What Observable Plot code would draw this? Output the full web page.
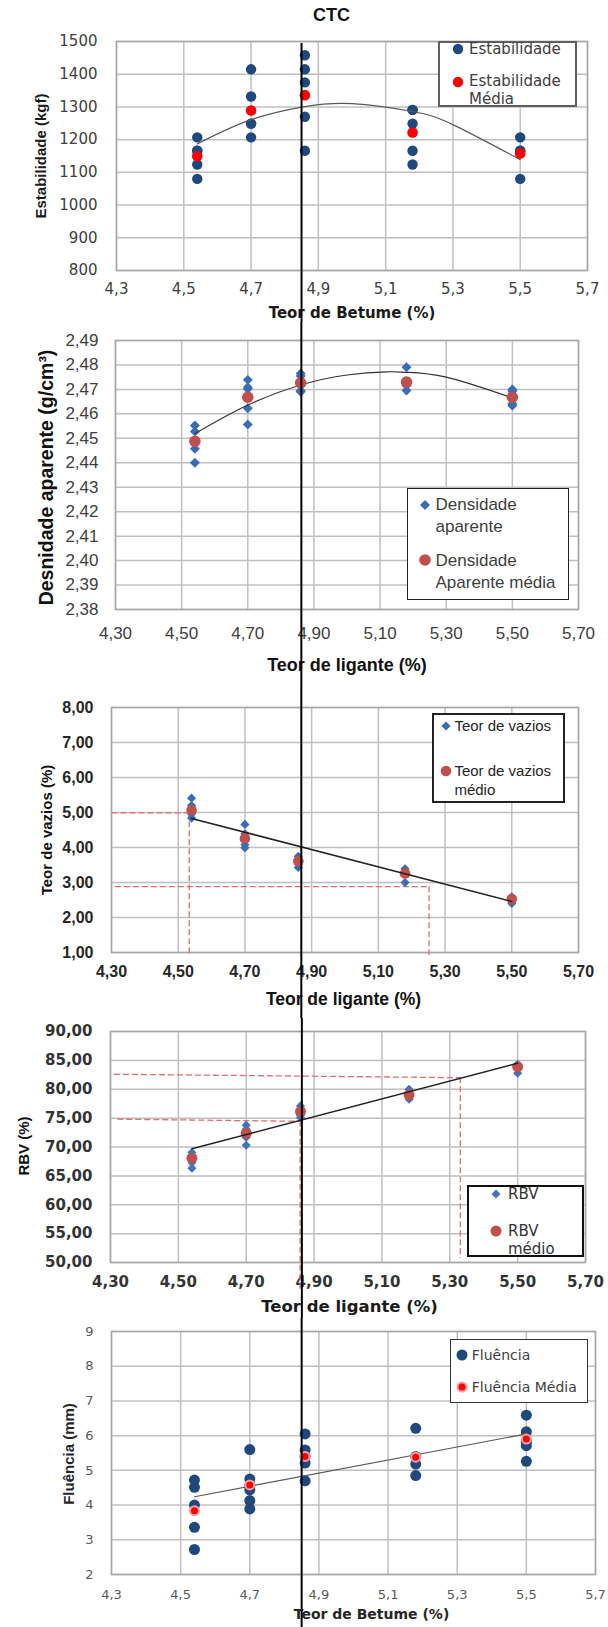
<!DOCTYPE html>
<html>
<head>
<meta charset="utf-8">
<script src="https://cdn.jsdelivr.net/npm/d3@7"></script>
<script src="https://cdn.jsdelivr.net/npm/@observablehq/plot@0.6"></script>
<style>
  body { margin: 0; background: #fff; }
  #root { position: relative; width: 608px; height: 1627px; overflow: hidden; background: #fff; }
  #root > svg { position: absolute; left: 0; }
  .legend { position: absolute; box-sizing: border-box; background: #fff; }
  .legend .t { position: absolute; white-space: nowrap; line-height: 1; }
  .legend svg { position: absolute; overflow: visible; }
  .title { position: absolute; text-align: center; font: bold 18px "Liberation Sans", Arial, sans-serif; color: #111; }
</style>
</head>
<body>
<div id="root"></div>
<script>
// ---------------- DATA ----------------
const xTicks = [4.3, 4.5, 4.7, 4.9, 5.1, 5.3, 5.5, 5.7];
const teor = [4.54, 4.70, 4.86, 5.18, 5.50];
// vertical line (teor ótimo) as read in each panel
const teorOtimo = [4.85, 4.862, 4.869, 4.864, 4.85];

// Panel 1 – Estabilidade
const estabTicks = [800, 900, 1000, 1100, 1200, 1300, 1400, 1500];
const estabX = [4.54,4.54,4.54,4.54,4.54, 4.70,4.70,4.70,4.70,4.70, 4.86,4.86,4.86,4.86,4.86, 5.18,5.18,5.18,5.18,5.18, 5.50,5.50,5.50,5.50];
const estabY = [1207,1166,1166,1124,1080, 1415,1332,1249,1249,1207, 1458,1415,1375,1270,1166, 1291,1291,1249,1166,1124, 1207,1166,1166,1080];
const estabMedia = [1149, 1289, 1336, 1222, 1158];
const estabTrendX = [4.54, 4.70, 4.86, 5.00, 5.18, 5.30, 5.50];
const estabTrendY = [1187, 1261, 1301, 1310, 1286, 1246, 1139];

// Panel 2 – Densidade aparente
const densTicks = [2.38, 2.39, 2.40, 2.41, 2.42, 2.43, 2.44, 2.45, 2.46, 2.47, 2.48, 2.49];
const densX = [4.54,4.54,4.54,4.54, 4.70,4.70,4.70,4.70,4.70, 4.86,4.86,4.86,4.86,4.86, 5.18,5.18,5.18,5.18, 5.50,5.50,5.50,5.50];
const densY = [2.4552,2.4528,2.4457,2.4400, 2.4739,2.4709,2.4702,2.4623,2.4557, 2.4765,2.4755,2.4730,2.4695,2.4690, 2.4791,2.4730,2.4716,2.4696, 2.4700,2.4692,2.4641,2.4634];
const densMedia = [2.4488, 2.4668, 2.4727, 2.4730, 2.4668];
const densTrendX = [4.54, 4.70, 4.86, 5.00, 5.12, 5.18, 5.30, 5.50];
const densTrendY = [2.4519, 2.4636, 2.4718, 2.4759, 2.4772, 2.4770, 2.4750, 2.4665];

// Panel 3 – Teor de vazios
const vaziosTicks = [1, 2, 3, 4, 5, 6, 7, 8];
const vaziosX = [4.54,4.54,4.54,4.54,4.54, 4.70,4.70,4.70,4.70,4.70, 4.86,4.86,4.86,4.86, 5.18,5.18,5.18, 5.50,5.50,5.50];
const vaziosY = [5.41,5.20,5.06,4.96,4.84, 4.66,4.39,4.29,4.08,3.99, 3.75,3.67,3.53,3.43, 3.39,3.29,3.00, 2.59,2.48,2.40];
const vaziosMedia = [5.07, 4.26, 3.61, 3.26, 2.53];
const vaziosTrendX = [4.54, 5.50];
const vaziosTrendY = [4.83, 2.46];
const vaziosGuideHX1 = [4.30, 4.31];
const vaziosGuideHX2 = [4.533, 5.252];
const vaziosGuideHY = [4.99, 2.88];
const vaziosGuideVX = [4.533, 5.252];
const vaziosGuideVY = [4.99, 2.88];

// Panel 4 – RBV
const rbvTicks = [50, 55, 60, 65, 70, 75, 80, 85, 90];
const rbvX = [4.54,4.54,4.54,4.54, 4.70,4.70,4.70,4.70, 4.86,4.86,4.86,4.86, 5.18,5.18,5.18, 5.50,5.50,5.50];
const rbvY = [69.04,68.46,67.30,66.33, 73.78,73.08,71.64,70.31, 77.12,76.54,75.50,75.10, 80.01,79.15,78.28, 84.34,83.76,82.78];
const rbvMedia = [68.06, 72.39, 76.14, 79.03, 83.88];
const rbvTrendX = [4.54, 5.50];
const rbvTrendY = [69.7, 84.5];
const rbvGuideHX1 = [4.31, 4.32];
const rbvGuideHY1 = [82.6, 74.82];
const rbvGuideHX2 = [5.331, 4.859];
const rbvGuideHY2 = [82.0, 74.45];

// Panel 5 – Fluência
const fluTicks = [2, 3, 4, 5, 6, 7, 8, 9];
const fluX = [4.54,4.54,4.54,4.54,4.54, 4.70,4.70,4.70,4.70,4.70,4.70, 4.86,4.86,4.86,4.86,4.86, 5.18,5.18,5.18,5.18, 5.50,5.50,5.50,5.50,5.50];
const fluY = [4.72,4.51,4.00,3.36,2.72, 5.60,4.75,4.56,4.44,4.13,3.89, 6.05,5.59,5.40,5.21,4.70, 6.21,5.40,5.18,4.85, 6.59,6.11,5.81,5.71,5.26];
const fluMedia = [3.84, 4.58, 5.40, 5.38, 5.90];
const fluTrendX = [4.54, 5.50];
const fluTrendY = [4.24, 6.05];

// ---------------- HELPERS ----------------
const zip = (xs, ys) => xs.map((x, i) => ({x, y: ys[i]}));
const loc = d3.formatLocale({decimal: ",", thousands: ".", grouping: [3], currency: ["", ""]});
const f0 = loc.format("d"), f1 = loc.format(".1f"), f2 = loc.format(".2f");
const NAVY = "#1F497D", RED = "#FF0000", DIAM = "#3A6CB4", RED2 = "#C0504D";
const GRID = "#c0c0c0", FRAMEC = "#a6a6a6";
const LIB = "'Liberation Sans', Arial, sans-serif";
const DJV = "'DejaVu Sans', Verdana, sans-serif";

function makePanel(c) {
  const marks = [
    Plot.gridX(xTicks, {stroke: GRID, strokeOpacity: 1, strokeWidth: 1.5}),
    Plot.gridY(c.yTicks, {stroke: GRID, strokeOpacity: 1, strokeWidth: 1.5}),
    Plot.frame({stroke: FRAMEC, strokeWidth: 1.5}),
    Plot.axisX(xTicks, {tickFormat: c.xFmt, tickSize: 0, tickPadding: c.xPad, label: null,
      fontSize: c.tick.size, fontWeight: c.tick.weight, fontFamily: c.tick.family, color: c.tick.color}),
    Plot.axisY(c.yTicks, {tickFormat: c.yFmt, tickSize: 0, tickPadding: c.yPad, label: null,
      fontSize: c.tick.size, fontWeight: c.tick.weight, fontFamily: c.tick.family, color: c.tick.color}),
    ...c.marks,
    Plot.text([c.xLabel.text], {frameAnchor: "bottom", textAnchor: "middle", lineAnchor: "middle",
      dx: c.xLabel.dx, dy: c.xLabel.dy,
      fontSize: c.xLabel.size, fontWeight: "bold", fontFamily: c.xLabel.family, fill: c.xLabel.color}),
    Plot.text([c.yLabel.text], {frameAnchor: "left", textAnchor: "middle", lineAnchor: "middle", rotate: -90,
      dx: c.yLabel.dx, dy: c.yLabel.dy,
      fontSize: c.yLabel.size, fontWeight: "bold", fontFamily: c.yLabel.family, fill: c.yLabel.color}),
    Plot.ruleX([c.lineX], {stroke: "#000", strokeWidth: 2, insetTop: c.lineInsetTop, insetBottom: -c.mb})
  ];
  const svg = Plot.plot({
    width: 608, height: c.h,
    marginLeft: c.ml, marginRight: c.mr, marginTop: c.mt, marginBottom: c.mb,
    x: {domain: [4.3, 5.7], axis: null},
    y: {domain: c.yDomain, axis: null},
    style: {background: "white", fontFamily: c.tick.family, overflow: "visible"},
    marks
  });
  svg.style.top = c.top + "px";
  return svg;
}

function addLegend(root, L) {
  const bw = L.bw;
  const box = document.createElement("div");
  box.className = "legend";
  box.style.cssText = `left:${L.left}px;top:${L.top}px;width:${L.w}px;height:${L.h}px;border:${bw}px solid ${L.borderColor};`;
  for (const it of L.items) {
    const s = d3.create("svg").attr("width", 16).attr("height", 16)
      .style("left", (it.sx - 8 - bw) + "px").style("top", (it.sy - 8 - bw) + "px");
    if (it.shape === "diamond") {
      const r = it.r;
      s.append("path").attr("d", `M8,${8 - r}L${8 + r},8L8,${8 + r}L${8 - r},8Z`).attr("fill", it.color);
    } else {
      s.append("circle").attr("cx", 8).attr("cy", 8).attr("r", it.r).attr("fill", it.color)
        .attr("stroke", it.stroke || "none").attr("stroke-width", it.strokeWidth || 0);
    }
    box.appendChild(s.node());
    for (const [txt, y] of it.lines) {
      const t = document.createElement("div");
      t.className = "t";
      t.textContent = txt;
      t.style.cssText = `left:${L.tx - bw}px;top:${y - L.size / 2 - bw}px;font-family:${L.family};font-size:${L.size}px;font-weight:${L.weight || "normal"};color:${L.color};`;
      box.appendChild(t);
    }
  }
  root.appendChild(box);
}

// ---------------- PANELS ----------------
const root = document.getElementById("root");

// Panel 1
root.appendChild(makePanel({
  top: 0, h: 322, ml: 116, mr: 21, mt: 41, mb: 52,
  yDomain: [800, 1500], yTicks: estabTicks, xFmt: f1, yFmt: f0, xPad: 12.6, yPad: 19,
  tick: {size: 15, weight: "normal", family: DJV, color: "#404040"},
  xLabel: {text: "Teor de Betume (%)", dx: 0, dy: 43, size: 15, family: DJV, color: "#1a1a1a"},
  yLabel: {text: "Estabilidade (kgf)", dx: -75.3, dy: 0, size: 15, family: LIB, color: "#1a1a1a"},
  lineX: teorOtimo[0], lineInsetTop: 2,
  marks: [
    Plot.dot(zip(estabX, estabY), {x: "x", y: "y", r: 5.2, fill: NAVY}),
    Plot.dot(zip(teor, estabMedia), {x: "x", y: "y", r: 5.3, fill: RED}),
    Plot.line(zip(estabTrendX, estabTrendY), {x: "x", y: "y", curve: "natural", stroke: "#595959", strokeWidth: 1.2})
  ]
}));

// Panel 2
root.appendChild(makePanel({
  top: 322, h: 366, ml: 115, mr: 30, mt: 18, mb: 79,
  yDomain: [2.38, 2.49], yTicks: densTicks, xFmt: f2, yFmt: f2, xPad: 17.9, yPad: 17,
  tick: {size: 17, weight: "normal", family: LIB, color: "#404040"},
  xLabel: {text: "Teor de ligante (%)", dx: 0, dy: 56, size: 18, family: LIB, color: "#111"},
  yLabel: {text: "Desnidade aparente (g/cm³)", dx: -68.5, dy: 2.5, size: 19.5, family: LIB, color: "#111"},
  lineX: teorOtimo[1], lineInsetTop: -18,
  marks: [
    Plot.dot(zip(densX, densY), {x: "x", y: "y", symbol: "diamond2", r: 4.5, fill: DIAM}),
    Plot.line(zip(densTrendX, densTrendY), {x: "x", y: "y", curve: "natural", stroke: "#333", strokeWidth: 1.2}),
    Plot.dot(zip(teor, densMedia), {x: "x", y: "y", r: 5.8, fill: RED2})
  ]
}));

// Panel 3
root.appendChild(makePanel({
  top: 688, h: 330, ml: 111, mr: 30, mt: 19, mb: 66,
  yDomain: [1, 8], yTicks: vaziosTicks, xFmt: f2, yFmt: f2, xPad: 13.2, yPad: 18,
  tick: {size: 16, weight: "bold", family: LIB, color: "#262626"},
  xLabel: {text: "Teor de ligante (%)", dx: -1.5, dy: 47, size: 17.5, family: LIB, color: "#111"},
  yLabel: {text: "Teor de vazios (%)", dx: -64.5, dy: 0, size: 15, family: LIB, color: "#111"},
  lineX: teorOtimo[2], lineInsetTop: -19,
  marks: [
    Plot.link(vaziosGuideHY.map((y, i) => ({x1: vaziosGuideHX1[i], x2: vaziosGuideHX2[i], y})),
      {x1: "x1", x2: "x2", y1: "y", y2: "y", stroke: "#d9706e", strokeWidth: 1.3, strokeDasharray: "6,3"}),
    Plot.ruleX(vaziosGuideVX.map((x, i) => ({x, y1: vaziosGuideVY[i], y2: 1})),
      {x: "x", y1: "y1", y2: "y2", stroke: "#d9706e", strokeWidth: 1.3, strokeDasharray: "6,3", insetBottom: -3}),
    Plot.dot(zip(vaziosX, vaziosY), {x: "x", y: "y", symbol: "diamond2", r: 4.1, fill: DIAM}),
    Plot.dot(zip(teor, vaziosMedia), {x: "x", y: "y", r: 5.3, fill: RED2}),
    Plot.line(zip(vaziosTrendX, vaziosTrendY), {x: "x", y: "y", stroke: "#222", strokeWidth: 1.5})
  ]
}));

// Panel 4
root.appendChild(makePanel({
  top: 1018, h: 300, ml: 110, mr: 23, mt: 13, mb: 56,
  yDomain: [50, 90], yTicks: rbvTicks, xFmt: f2, yFmt: f2, xPad: 14.3, yPad: 18,
  tick: {size: 15, weight: "bold", family: DJV, color: "#333"},
  xLabel: {text: "Teor de ligante (%)", dx: 1.5, dy: 44.7, size: 16.5, family: DJV, color: "#1a1a1a"},
  yLabel: {text: "RBV (%)", dx: -86.7, dy: -1, size: 15, family: LIB, color: "#111"},
  lineX: teorOtimo[3], lineInsetTop: -13,
  marks: [
    Plot.link(rbvGuideHX1.map((x1, i) => ({x1, y1: rbvGuideHY1[i], x2: rbvGuideHX2[i], y2: rbvGuideHY2[i]})),
      {x1: "x1", y1: "y1", x2: "x2", y2: "y2", stroke: "#d9706e", strokeWidth: 1.3, strokeDasharray: "6,3"}),
    Plot.ruleX([{x: rbvGuideHX2[0], y1: rbvGuideHY2[0], y2: 50}],
      {x: "x", y1: "y1", y2: "y2", stroke: "#d9706e", strokeWidth: 1.3, strokeDasharray: "6,3", insetBottom: 4}),
    Plot.ruleX([{x: rbvGuideHX2[1], y1: rbvGuideHY2[1], y2: 50}],
      {x: "x", y1: "y1", y2: "y2", stroke: "#d9706e", strokeWidth: 1.3, strokeDasharray: "6,3", insetBottom: -28}),
    Plot.dot(zip(rbvX, rbvY), {x: "x", y: "y", symbol: "diamond2", r: 4.1, fill: "#4274B8"}),
    Plot.dot(zip(teor, rbvMedia), {x: "x", y: "y", r: 5.5, fill: RED2}),
    Plot.line(zip(rbvTrendX, rbvTrendY), {x: "x", y: "y", stroke: "#222", strokeWidth: 1.5})
  ]
}));

// Panel 5
root.appendChild(makePanel({
  top: 1318, h: 309, ml: 111, mr: 13, mt: 13, mb: 53,
  yDomain: [2, 9], yTicks: fluTicks, xFmt: f1, yFmt: f0, xPad: 15.3, yPad: 18,
  tick: {size: 13, weight: "normal", family: DJV, color: "#595959"},
  xLabel: {text: "Teor de Betume (%)", dx: 18, dy: 40, size: 14, family: DJV, color: "#262626"},
  yLabel: {text: "Fluência (mm)", dx: -42, dy: 1, size: 15, family: LIB, color: "#262626"},
  lineX: teorOtimo[4], lineInsetTop: -13,
  marks: [
    Plot.dot(zip(fluX, fluY), {x: "x", y: "y", r: 5.5, fill: NAVY}),
    Plot.line(zip(fluTrendX, fluTrendY), {x: "x", y: "y", stroke: "#595959", strokeWidth: 1.2}),
    Plot.dot(zip(teor, fluMedia), {x: "x", y: "y", r: 4.5, fill: RED, stroke: "#f4a0a0", strokeWidth: 2})
  ]
}));

// Title
const title = document.createElement("div");
title.className = "title";
title.textContent = "CTC";
title.style.cssText = "left:281.5px;top:4px;width:100px;line-height:22px;";
root.appendChild(title);

// Legends
addLegend(root, {left: 438, top: 41, w: 139, h: 66, bw: 2, borderColor: "#5f5f5f",
  tx: 31, size: 15, family: DJV, color: "#404040",
  items: [
    {shape: "circle", r: 5.2, color: NAVY, sx: 20, sy: 8, lines: [["Estabilidade", 8]]},
    {shape: "circle", r: 5.2, color: RED, sx: 20, sy: 40.7, lines: [["Estabilidade", 40.7], ["Média", 58]]}
  ]});
addLegend(root, {left: 407, top: 488, w: 162, h: 112, bw: 1.5, borderColor: "#222",
  tx: 29, size: 17, family: LIB, color: "#404040",
  items: [
    {shape: "diamond", r: 5, color: DIAM, sx: 18.7, sy: 17, lines: [["Densidade", 17], ["aparente", 39.3]]},
    {shape: "circle", r: 5.8, color: RED2, sx: 18.7, sy: 72.7, lines: [["Densidade", 72.7], ["Aparente média", 95.3]]}
  ]});
addLegend(root, {left: 431.6, top: 712.7, w: 133.4, h: 90, bw: 2, borderColor: "#222",
  tx: 22.8, size: 15, family: LIB, color: "#262626",
  items: [
    {shape: "diamond", r: 4.5, color: DIAM, sx: 14.4, sy: 13, lines: [["Teor de vazios", 13]]},
    {shape: "circle", r: 5.3, color: RED2, sx: 14.4, sy: 58, lines: [["Teor de vazios", 58], ["médio", 76.6]]}
  ]});
addLegend(root, {left: 466.5, top: 1185, w: 117, h: 72.3, bw: 2, borderColor: "#111",
  tx: 41.5, size: 15, family: DJV, color: "#333",
  items: [
    {shape: "diamond", r: 4.5, color: "#4274B8", sx: 29.8, sy: 9, lines: [["RBV", 9]]},
    {shape: "circle", r: 5.5, color: RED2, sx: 29.8, sy: 46, lines: [["RBV", 46], ["médio", 64.3]]}
  ]});
addLegend(root, {left: 449.8, top: 1339.3, w: 138.4, h: 64, bw: 1.5, borderColor: "#333",
  tx: 22.5, size: 14, family: DJV, color: "#404040",
  items: [
    {shape: "circle", r: 5.5, color: NAVY, sx: 12.8, sy: 16, lines: [["Fluência", 16]]},
    {shape: "circle", r: 4.5, color: RED, stroke: "#f4a0a0", strokeWidth: 2, sx: 12.8, sy: 48, lines: [["Fluência Média", 48]]}
  ]});
</script>
</body>
</html>
